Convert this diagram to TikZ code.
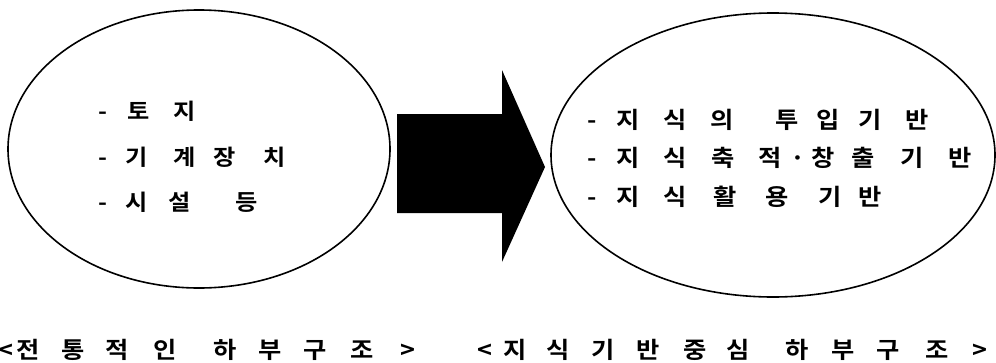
\documentclass[tikz,border=0pt]{standalone}
\usepackage{fontspec}
\usetikzlibrary{shapes.geometric}
\newfontfamily\kr{Noto Sans CJK KR}[BoldFont={Noto Sans CJK KR Bold}, BoldFeatures={FakeStretch=1.1}]
\newcommand\placech[2]{\rlap{\hspace*{#1pt}\makebox[0pt]{#2}}}
\begin{document}
\begin{tikzpicture}[x=1pt,y=-1pt,
  oval/.style={draw=black, line width=1.6pt, ellipse, inner sep=0pt},
  item/.style={inner sep=0pt, anchor=center, font=\kr\bfseries\fontsize{22}{22}\selectfont},
  ritem/.style={inner sep=0pt, anchor=center, font=\kr\bfseries\fontsize{23}{23}\selectfont},
  caption/.style={inner sep=0pt, anchor=center, font=\kr\bfseries\fontsize{23}{23}\selectfont}]
\useasboundingbox[fill=white] (0,0) rectangle (996,362);
% ellipses
\node[oval, minimum width=382pt, minimum height=278pt] (left) at (199,149) {};
\node[oval, minimum width=444pt, minimum height=284pt] (right) at (773,155) {};
% block arrow
\fill[black] (397,114) -- (502,114) -- (502,70) -- (545,167) -- (502,262) -- (502,213) -- (397,213) -- cycle;
% left texts
\node[item] (l1) at (103,111) {\placech{0}{-}\placech{36}{토}\placech{82}{지}};
\node[item] (l2) at (103,157) {\placech{0}{-}\placech{34}{기}\placech{82}{계}\placech{122}{장}\placech{172}{치}};
\node[item] (l3) at (103,202) {\placech{0}{-}\placech{34}{시}\placech{77}{설}\placech{144}{등}};
% right texts
\node[ritem] (r1) at (592,120) {\placech{0}{-}\placech{36}{지}\placech{83}{식}\placech{130}{의}\placech{195}{투}\placech{236}{입}\placech{278}{기}\placech{325}{반}};
\node[ritem] (r2) at (592,158) {\placech{0}{-}\placech{36}{지}\placech{83}{식}\placech{131}{축}\placech{178}{적}\placech{206}{·}\placech{231}{창}\placech{271}{출}\placech{320}{기}\placech{368}{반}};
\node[ritem] (r3) at (592,197) {\placech{0}{-}\placech{36}{지}\placech{83}{식}\placech{133}{활}\placech{185}{용}\placech{238}{기}\placech{278}{반}};
% captions
\node[caption] (c1) at (6,350) {\placech{0}{<}\placech{22}{전}\placech{67}{통}\placech{111}{적}\placech{159}{인}\placech{219}{하}\placech{264}{부}\placech{309}{구}\placech{356}{조}\placech{402}{>}};
\node[caption] (c2) at (485,350) {\placech{0}{<}\placech{30}{지}\placech{73}{식}\placech{118}{기}\placech{163}{반}\placech{210}{중}\placech{253}{심}\placech{312}{하}\placech{358}{부}\placech{403}{구}\placech{452}{조}\placech{495}{>}};
\end{tikzpicture}
\end{document}
